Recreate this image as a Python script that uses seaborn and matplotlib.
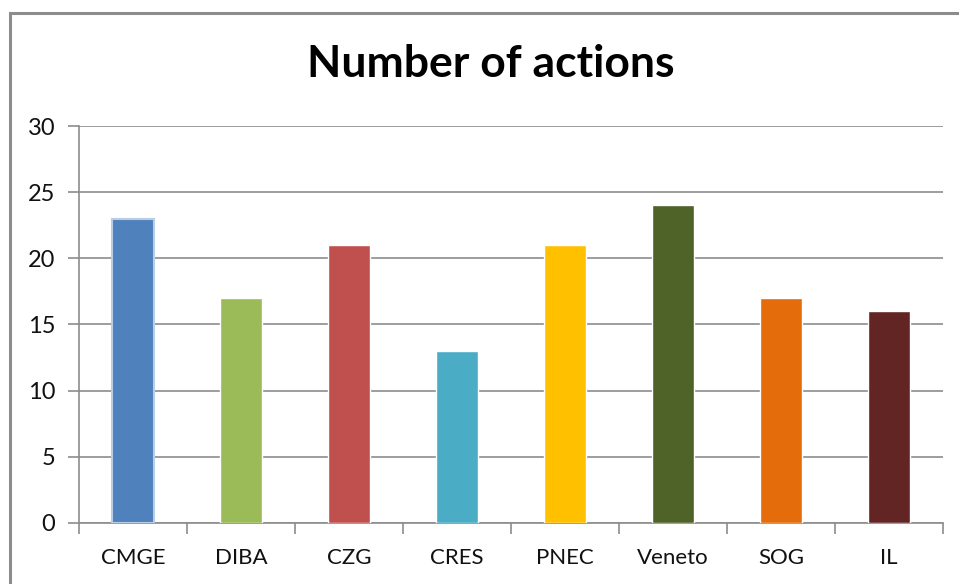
import matplotlib
matplotlib.use("Agg")
import matplotlib.pyplot as plt
import matplotlib.patches as mpatches
import seaborn as sns
import pandas as pd

# data
regions = ["CMGE", "DIBA", "CZG", "CRES", "PNEC", "Veneto", "SOG", "IL"]
actions = [23, 17, 21, 13, 21, 24, 17, 16]
bar_colors = ["#4F81BD", "#9BBB59", "#C0504D", "#4BACC6",
              "#FFC000", "#4F6228", "#E46C0A", "#632523"]
y_ticks = [0, 5, 10, 15, 20, 25, 30]

df = pd.DataFrame({"region": regions, "actions": actions})

sns.set_theme(style="white")
plt.rcParams["font.family"] = ["Lato", "DejaVu Sans"]

fig = plt.figure(figsize=(9.59, 5.84), dpi=100)
ax = fig.add_axes([0.0824, 0.1045, 0.9009, 0.6797])

sns.barplot(data=df, x="region", y="actions", hue="region",
            palette=bar_colors, width=0.39, saturation=1,
            legend=False, ax=ax, zorder=3)

# light halo on first bar like the selected excel series
ax.patches[0].set_edgecolor("#B9CDE5")
ax.patches[0].set_linewidth(1.5)

ax.set_ylim(0, 30)
ax.set_xlim(-0.5, len(regions) - 0.5)
ax.set_yticks(y_ticks)
ax.yaxis.grid(True, color="#8C8C8C", linewidth=1.2, zorder=0)
ax.set_axisbelow(True)

for s in ["top", "right"]:
    ax.spines[s].set_visible(False)
for s in ["left", "bottom"]:
    ax.spines[s].set_color("#8C8C8C")
    ax.spines[s].set_linewidth(1.2)

ax.tick_params(axis="y", length=8, width=1.2, color="#8C8C8C",
               left=True, labelsize=17, labelcolor="#111111", pad=9)
ax.tick_params(axis="x", which="major", length=0, labelsize=16,
               labelcolor="#111111", pad=18)
ax.set_xticks([i - 0.5 for i in range(len(regions) + 1)], minor=True)
ax.tick_params(axis="x", which="minor", length=8, width=1.2,
               color="#8C8C8C", bottom=True)
ax.set_xlabel("")
ax.set_ylabel("")

fig.text(0.512, 0.89, "Number of actions", ha="center", va="center",
         fontsize=32, fontweight="bold", color="#000000")

# outer chart border (only top and left visible in the crop)
fig.patches.append(mpatches.Rectangle((10 / 959, -0.1), 1.2, 1.1 - 13 / 584,
                                      transform=fig.transFigure,
                                      fill=False, edgecolor="#8C8C8C",
                                      linewidth=2.2))

fig.savefig("out.png", dpi=100)
